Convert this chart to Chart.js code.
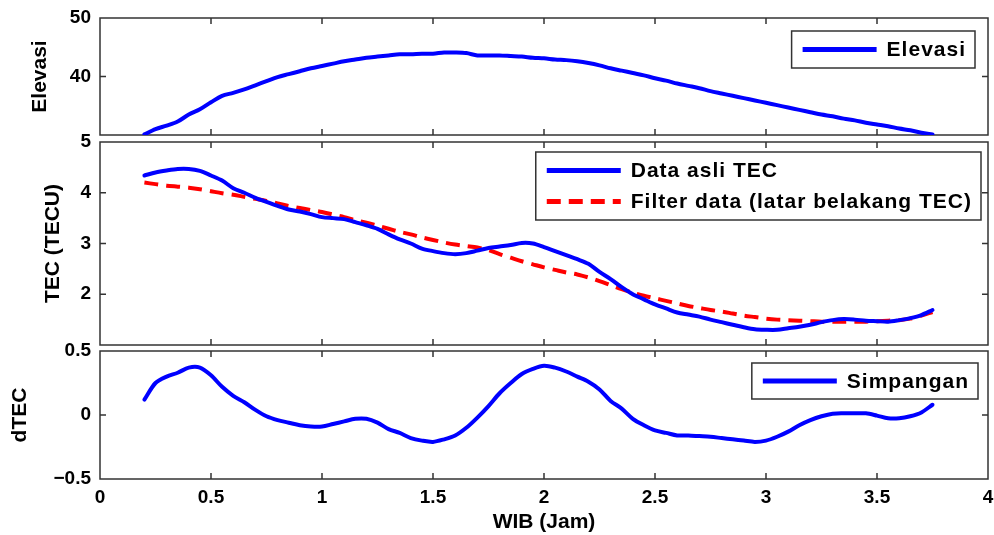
<!DOCTYPE html>
<html>
<head>
<meta charset="utf-8">
<script src="https://cdn.jsdelivr.net/npm/chart.js@4.4.1/dist/chart.umd.min.js"></script>
<style>
  html, body { margin: 0; padding: 0; background: #fff; }
  #wrap { position: relative; width: 994px; height: 535px; overflow: hidden; }
  #wrap canvas { position: absolute; left: 0; top: 0; }
</style>
</head>
<body>
<div id="wrap">
  <canvas id="elevChart" width="994" height="535"></canvas>
  <canvas id="tecChart" width="994" height="535"></canvas>
  <canvas id="dtecChart" width="994" height="535"></canvas>
</div>
<script>
// time axis (WIB, hours)
const hours = [
  0.20, 0.25, 0.30, 0.35, 0.40, 0.45, 0.50, 0.55, 0.60, 0.65, 0.70, 0.75,
  0.80, 0.85, 0.90, 0.95, 1.00, 1.05, 1.10, 1.15, 1.20, 1.25, 1.30, 1.35,
  1.40, 1.45, 1.50, 1.55, 1.60, 1.65, 1.70, 1.75, 1.80, 1.85, 1.90, 1.95,
  2.00, 2.05, 2.10, 2.15, 2.20, 2.25, 2.30, 2.35, 2.40, 2.45, 2.50, 2.55,
  2.60, 2.65, 2.70, 2.75, 2.80, 2.85, 2.90, 2.95, 3.00, 3.05, 3.10, 3.15,
  3.20, 3.25, 3.30, 3.35, 3.40, 3.45, 3.50, 3.55, 3.60, 3.65, 3.70, 3.75
];
const elevasi = [
  30.1, 31.0, 31.6, 32.3, 33.5, 34.4, 35.6, 36.7, 37.2, 37.8, 38.5, 39.2,
  39.9, 40.4, 40.9, 41.4, 41.8, 42.2, 42.6, 42.9, 43.2, 43.4, 43.6, 43.8,
  43.8, 43.9, 43.9, 44.1, 44.1, 44.0, 43.6, 43.6, 43.6, 43.5, 43.4, 43.2,
  43.1, 42.9, 42.8, 42.6, 42.3, 41.9, 41.4, 41.0, 40.6, 40.2, 39.7, 39.3,
  38.8, 38.4, 38.0, 37.5, 37.1, 36.7, 36.3, 35.9, 35.5, 35.1, 34.7, 34.3,
  33.9, 33.5, 33.2, 32.8, 32.5, 32.1, 31.8, 31.5, 31.1, 30.8, 30.4, 30.1
];
const tecAsli = [
  4.34, 4.40, 4.44, 4.47, 4.47, 4.43, 4.34, 4.24, 4.09, 4.00, 3.90, 3.82,
  3.74, 3.67, 3.63, 3.58, 3.52, 3.50, 3.48, 3.42, 3.36, 3.29, 3.18, 3.08,
  3.00, 2.90, 2.85, 2.81, 2.79, 2.81, 2.86, 2.91, 2.94, 2.97, 3.01, 3.00,
  2.93, 2.85, 2.77, 2.69, 2.60, 2.44, 2.30, 2.14, 2.00, 1.90, 1.80, 1.72,
  1.64, 1.60, 1.56, 1.50, 1.45, 1.40, 1.35, 1.31, 1.30, 1.30, 1.33, 1.36,
  1.40, 1.45, 1.49, 1.51, 1.50, 1.48, 1.47, 1.46, 1.49, 1.53, 1.59, 1.69
];
const tecFilter = [
  4.20, 4.17, 4.14, 4.12, 4.10, 4.07, 4.03, 3.99, 3.96, 3.92, 3.88, 3.84,
  3.79, 3.74, 3.70, 3.66, 3.62, 3.57, 3.52, 3.46, 3.41, 3.35, 3.29, 3.23,
  3.18, 3.12, 3.07, 3.02, 2.98, 2.95, 2.92, 2.87, 2.79, 2.72, 2.65, 2.59,
  2.53, 2.48, 2.43, 2.39, 2.33, 2.26, 2.18, 2.10, 2.03, 1.97, 1.92, 1.87,
  1.82, 1.77, 1.73, 1.69, 1.66, 1.62, 1.58, 1.55, 1.52, 1.50, 1.49, 1.48,
  1.47, 1.46, 1.46, 1.46, 1.46, 1.46, 1.47, 1.48, 1.49, 1.52, 1.58, 1.65
];
const dtec = [
  0.12, 0.25, 0.30, 0.33, 0.37, 0.37, 0.31, 0.22, 0.15, 0.10, 0.04, -0.01,
  -0.04, -0.06, -0.08, -0.09, -0.09, -0.07, -0.05, -0.03, -0.03, -0.06, -0.11, -0.14,
  -0.18, -0.20, -0.21, -0.19, -0.16, -0.10, -0.02, 0.07, 0.17, 0.25, 0.32, 0.36,
  0.385, 0.37, 0.34, 0.30, 0.26, 0.20, 0.11, 0.05, -0.03, -0.08, -0.12, -0.14,
  -0.16, -0.16, -0.165, -0.17, -0.18, -0.19, -0.20, -0.21, -0.20, -0.17, -0.13, -0.08,
  -0.04, -0.01, 0.01, 0.013, 0.013, 0.013, -0.005, -0.026, -0.026, -0.01, 0.02, 0.08
];

// ticks
const xTickVals = [0, 0.5, 1, 1.5, 2, 2.5, 3, 3.5, 4];
const xTickLabels = ['0', '0.5', '1', '1.5', '2', '2.5', '3', '3.5', '4'];
const elevTickVals = [30, 40, 50];
const elevTickLabels = ['', '40', '50'];
const tecTickVals = [1, 2, 3, 4, 5];
const tecTickLabels = ['', '2', '3', '4', '5'];
const dtecTickVals = [-0.5, 0, 0.5];
const dtecTickLabels = ['\u22120.5', '0', '0.5'];

const FONT = '"Liberation Sans", Arial, Helvetica, sans-serif';
const BLUE = '#0000ff';
const RED = '#ff0000';
const FRAME = '#333333';

Chart.defaults.color = '#000';
Chart.defaults.font.family = FONT;

const toXY = (ys) => hours.map((h, i) => ({ x: h, y: ys[i] }));

// box around plot area + inward MATLAB-style ticks
const frameTicks = {
  id: 'frameTicks',
  beforeDatasetsDraw(chart) {
    const { ctx, chartArea: a, scales } = chart;
    ctx.save();
    ctx.strokeStyle = FRAME;
    ctx.lineWidth = 1.5;
    ctx.beginPath();
    scales.x.ticks.forEach(t => {
      const px = scales.x.getPixelForValue(t.value);
      if (px <= a.left + 1 || px >= a.right - 1) return;
      ctx.moveTo(px, a.top); ctx.lineTo(px, a.top + 6);
      ctx.moveTo(px, a.bottom); ctx.lineTo(px, a.bottom - 6);
    });
    scales.y.ticks.forEach(t => {
      const py = scales.y.getPixelForValue(t.value);
      if (py <= a.top + 1 || py >= a.bottom - 1) return;
      ctx.moveTo(a.left, py); ctx.lineTo(a.left + 6, py);
      ctx.moveTo(a.right, py); ctx.lineTo(a.right - 6, py);
    });
    ctx.stroke();
    ctx.strokeRect(a.left, a.top, a.right - a.left, a.bottom - a.top);
    ctx.restore();
  }
};

// legend box drawn inside the plot, top right
const boxLegend = {
  id: 'boxLegend',
  afterDatasetsDraw(chart, args, opts) {
    const { ctx, chartArea: a } = chart;
    const sets = chart.data.datasets;
    ctx.save();
    ctx.font = 'bold 21px ' + FONT;
    ctx.letterSpacing = '1px';
    const textW = Math.max(...sets.map(d => ctx.measureText(d.label).width));
    const padL = 11, lineLen = 74, gap = 10, padR = 9;
    const w = padL + lineLen + gap + textW + padR;
    const h = opts.rowH * sets.length + opts.padY * 2;
    const x = a.right - opts.right - w;
    const y = a.top + opts.top;
    ctx.fillStyle = '#fff';
    ctx.fillRect(x, y, w, h);
    ctx.strokeStyle = FRAME;
    ctx.lineWidth = 1.5;
    ctx.strokeRect(x, y, w, h);
    sets.forEach((d, i) => {
      const cy = y + opts.padY + opts.rowH * (i + 0.5);
      ctx.strokeStyle = d.borderColor;
      ctx.lineWidth = 5;
      ctx.setLineDash(d.borderDash || []);
      ctx.beginPath();
      ctx.moveTo(x + padL, cy);
      ctx.lineTo(x + padL + lineLen, cy);
      ctx.stroke();
      ctx.setLineDash([]);
      ctx.fillStyle = '#000';
      ctx.textBaseline = 'middle';
      ctx.textAlign = 'left';
      ctx.fillText(d.label, x + padL + lineLen + gap, cy + 1);
    });
    ctx.restore();
  }
};

function fixedTicks(vals, labels) {
  return {
    afterBuildTicks: s => { s.ticks = vals.map(v => ({ value: v })); },
    callback: v => labels[vals.indexOf(v)]
  };
}

function makePanel(cfg) {
  const yt = fixedTicks(cfg.yVals, cfg.yLabels);
  const xt = fixedTicks(xTickVals, xTickLabels);
  return new Chart(document.getElementById(cfg.id), {
    type: 'line',
    data: { datasets: cfg.datasets },
    options: {
      responsive: false,
      animation: false,
      events: [],
      layout: { padding: { left: 0, right: 6, top: cfg.top, bottom: cfg.bottom } },
      elements: { point: { radius: 0 }, line: { tension: 0.3 } },
      plugins: {
        legend: { display: false },
        tooltip: { enabled: false },
        boxLegend: cfg.legend
      },
      scales: {
        x: {
          type: 'linear', min: 0, max: 4,
          display: cfg.showX,
          afterBuildTicks: xt.afterBuildTicks,
          afterFit: s => {
            s.height = cfg.showX ? 56 : 0;
            s.paddingLeft = 0; s.paddingRight = 0;
          },
          grid: { display: false, drawTicks: false },
          border: { display: false },
          ticks: { callback: xt.callback, padding: 7, maxRotation: 0, autoSkip: false,
                   font: { size: 19, weight: 'bold' } },
          title: { display: cfg.showX, text: 'WIB (Jam)', padding: { top: 0, bottom: 0 },
                   font: { size: 21, weight: 'bold' } }
        },
        y: {
          type: 'linear', min: cfg.yVals[0], max: cfg.yVals[cfg.yVals.length - 1],
          afterBuildTicks: yt.afterBuildTicks,
          afterFit: s => { s.width = 100; s.paddingTop = 0; s.paddingBottom = 0; },
          grid: { display: false, drawTicks: false },
          border: { display: false },
          ticks: { callback: yt.callback, padding: 9, autoSkip: false,
                   font: { size: 19, weight: 'bold' } },
          title: { display: true, text: cfg.yTitle, padding: { top: cfg.titlePad, bottom: 0 },
                   font: { size: 21, weight: 'bold' } }
        }
      }
    },
    plugins: [frameTicks, boxLegend]
  });
}

makePanel({
  id: 'elevChart', top: 18, bottom: 400, showX: false,
  yVals: elevTickVals, yLabels: elevTickLabels, yTitle: 'Elevasi', titlePad: 28,
  legend: { right: 13, top: 13, rowH: 31, padY: 3 },
  datasets: [
    { label: 'Elevasi', data: toXY(elevasi), borderColor: BLUE, borderWidth: 4, borderCapStyle: 'round' }
  ]
});

makePanel({
  id: 'tecChart', top: 142, bottom: 190, showX: false,
  yVals: tecTickVals, yLabels: tecTickLabels, yTitle: 'TEC (TECU)', titlePad: 41,
  legend: { right: 7, top: 10, rowH: 31, padY: 3 },
  datasets: [
    { label: 'Data asli TEC', data: toXY(tecAsli), borderColor: BLUE, borderWidth: 4, borderCapStyle: 'round' },
    { label: 'Filter data (latar belakang TEC)', data: toXY(tecFilter), borderColor: RED, borderWidth: 4,
      borderDash: [14, 8] }
  ]
});

makePanel({
  id: 'dtecChart', top: 351, bottom: 0, showX: true,
  yVals: dtecTickVals, yLabels: dtecTickLabels, yTitle: 'dTEC', titlePad: 8,
  legend: { right: 10, top: 12, rowH: 30, padY: 3 },
  datasets: [
    { label: 'Simpangan', data: toXY(dtec), borderColor: BLUE, borderWidth: 4, borderCapStyle: 'round' }
  ]
});
</script>
</body>
</html>
